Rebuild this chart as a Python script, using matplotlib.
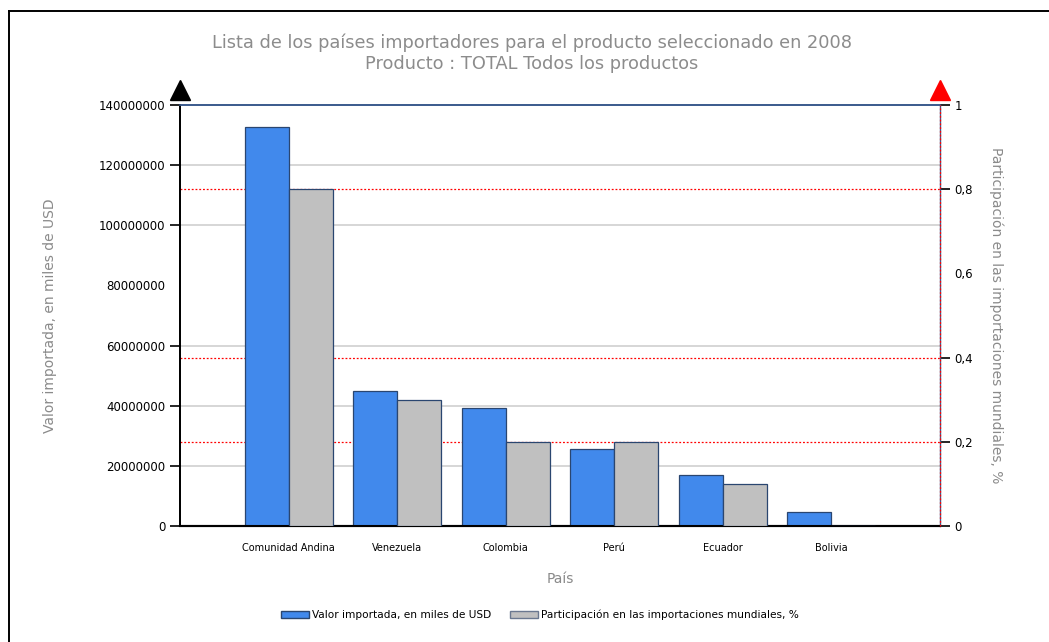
import matplotlib
matplotlib.use('Agg')
import matplotlib.pyplot as plt
import matplotlib.transforms as mtransforms
from matplotlib.patches import Rectangle
import numpy as np

# Data
paises = ['Comunidad Andina', 'Venezuela', 'Colombia', 'Perú', 'Ecuador', 'Bolivia']
valor_importado = [132.8e6, 45.0e6, 39.3e6, 25.6e6, 17.0e6, 4.7e6]
participacion = [0.80, 0.30, 0.20, 0.20, 0.10, 0.0]

left_ticks = [0, 20e6, 40e6, 60e6, 80e6, 100e6, 120e6, 140e6]
left_labels = ['0', '20000000', '40000000', '60000000', '80000000',
               '100000000', '120000000', '140000000']
right_ticks = [0, 0.2, 0.4, 0.6, 0.8, 1.0]
right_labels = ['0', '0,2', '0,4', '0,6', '0,8', '1']

gray_grid = [20e6, 40e6, 60e6, 100e6, 120e6]
red_grid = [0.2, 0.4, 0.8]

titulo = 'Lista de los países importadores para el producto seleccionado en 2008\nProducto : TOTAL Todos los productos'
ylabel_izq = 'Valor importada, en miles de USD'
ylabel_der = 'Participación en las importaciones mundiales, %'
xlabel = 'País'
serie1 = 'Valor importada, en miles de USD'
serie2 = 'Participación en las importaciones mundiales, %'

BLUE = '#4189EC'
GRAY = '#C0C0C0'
EDGE = '#2A4670'
TXT = '#8A8A8A'

fig = plt.figure(figsize=(10.49, 6.42), dpi=100)
ax = fig.add_axes([180 / 1049, 116 / 642, 760 / 1049, 421 / 642])
ax2 = ax.twinx()
ax2.set_zorder(ax.get_zorder() + 1)
ax2.patch.set_visible(False)

x = np.arange(len(paises))
w = 0.405

ax.bar(x - w / 2, valor_importado, width=w, color=BLUE, edgecolor=EDGE,
       linewidth=0.9, zorder=3)
ax2.bar(x + w / 2, participacion, width=w, color=GRAY, edgecolor=EDGE,
        linewidth=0.9, zorder=3)

ax.set_xlim(-1, len(paises))
ax.set_ylim(0, 140e6)
ax2.set_ylim(0, 1)

# grid lines
for g in gray_grid:
    ax.axhline(g, color='#D0D0D0', linewidth=1.2, zorder=1)
trans = mtransforms.blended_transform_factory(ax.transAxes, ax2.transData)
for g in red_grid:
    ax.plot([0, 1], [g, g], transform=trans, color='red', linestyle=(0, (1.5, 1.5)),
            linewidth=0.9, zorder=1)

ax.set_yticks(left_ticks)
ax.set_yticklabels(left_labels)
ax2.set_yticks(right_ticks)
ax2.set_yticklabels(right_labels)
ax.set_xticks(x)
ax.set_xticklabels(paises, fontsize=7)
ax.tick_params(axis='x', length=0, pad=12)
ax.tick_params(axis='y', length=7, width=1.2, labelsize=8.5, direction='out')
ax2.tick_params(axis='y', length=7, width=1.2, labelsize=8.5, direction='out')

# no tick mark at 80M / 0.6 as in the reference
ax.yaxis.get_major_ticks()[4].tick1line.set_visible(False)
ax2.yaxis.get_major_ticks()[3].tick2line.set_visible(False)

for a in (ax, ax2):
    a.spines['top'].set_color('#3A5A8C')
    a.spines['top'].set_linewidth(1.2)
    a.spines['left'].set_color('black')
    a.spines['left'].set_linewidth(1.3)
    a.spines['bottom'].set_color('black')
    a.spines['bottom'].set_linewidth(1.5)
ax.spines['right'].set_visible(False)
ax2.spines['right'].set_color('#3A5A8C')
ax2.spines['right'].set_linewidth(1.0)
ax2.plot([1, 1], [0, 1], transform=ax2.transAxes, color='red',
         linestyle=(0, (1.5, 1.5)), linewidth=0.9, clip_on=False, zorder=5)

ax.set_ylabel(ylabel_izq, color=TXT, fontsize=10, labelpad=30)
ax2.set_ylabel(ylabel_der, color=TXT, fontsize=10, rotation=-90, labelpad=22)
ax.set_xlabel(xlabel, color=TXT, fontsize=10, labelpad=14)

fig.text(532 / 1049, 1 - 53 / 642, titulo, ha='center', va='center',
         fontsize=12.8, color='#8C8C8C', linespacing=1.25)

# arrow heads on the axes
ax.plot([0], [1.035], marker='^', markersize=14, color='black',
        transform=ax.transAxes, clip_on=False)
ax.plot([1], [1.035], marker='^', markersize=14, color='red',
        transform=ax.transAxes, clip_on=False)

# legend
h1 = Rectangle((0, 0), 1, 1, facecolor=BLUE, edgecolor=EDGE, linewidth=1)
h2 = Rectangle((0, 0), 1, 1, facecolor=GRAY, edgecolor='#6A7890', linewidth=1)
fig.legend([h1, h2], [serie1, serie2], loc='center', bbox_to_anchor=(540 / 1049, 1 - 615 / 642),
           ncol=2, frameon=False, fontsize=7.6, handlelength=2.6, handleheight=0.7,
           handletextpad=0.3, columnspacing=1.8)

# outer frame
fig.add_artist(plt.Line2D([9 / 1049, 9 / 1049], [0, 1 - 11 / 642], color='black',
                          linewidth=1.4, transform=fig.transFigure))
fig.add_artist(plt.Line2D([9 / 1049, 1], [1 - 11 / 642, 1 - 11 / 642], color='black',
                          linewidth=1.4, transform=fig.transFigure))

fig.savefig('out.png', dpi=100)
